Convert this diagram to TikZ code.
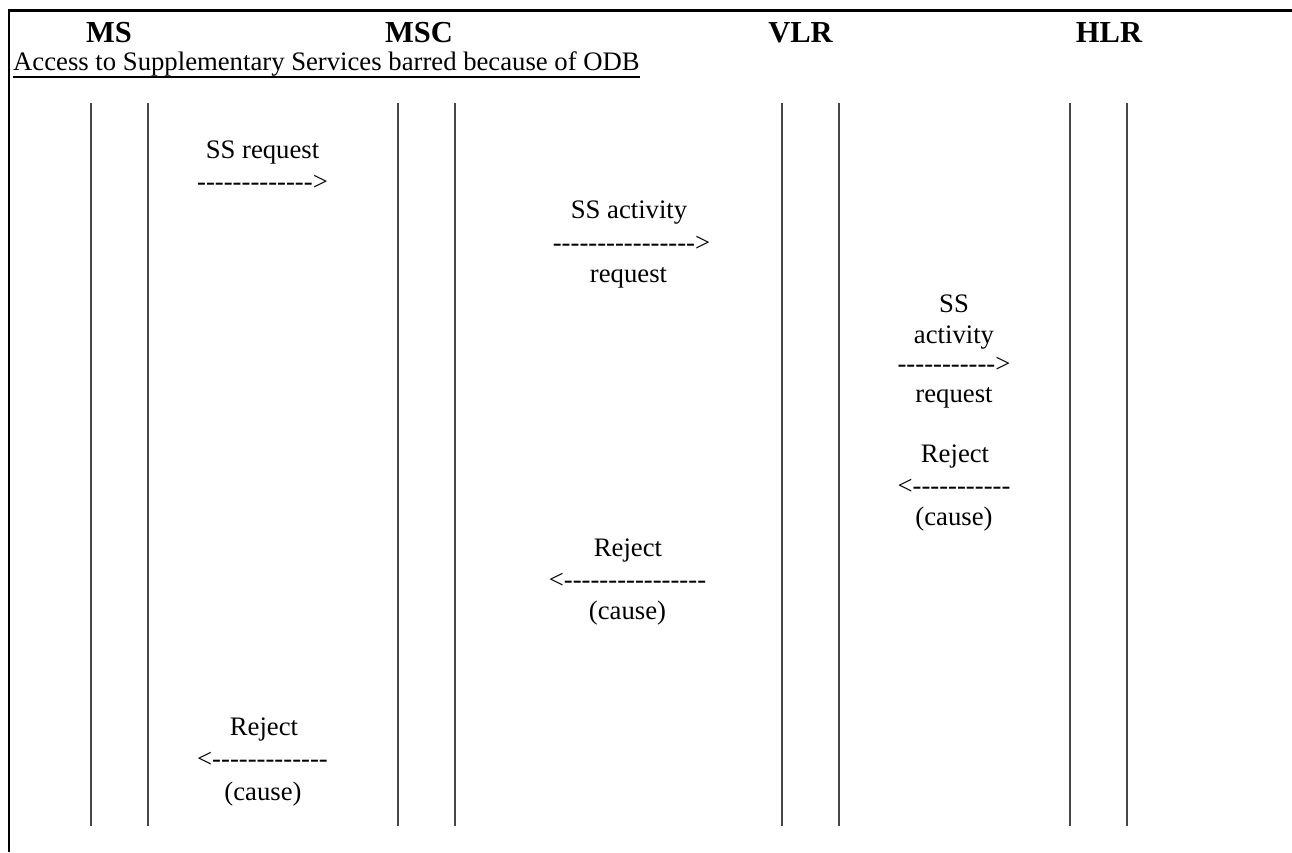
\documentclass[tikz,border=0pt]{standalone}
\usepackage{fontspec}
\setmainfont{Liberation Serif}
\newcommand\dashrun[1]{\foreach \k in {1,...,#1}{-\kern0pt}}
\begin{document}
\begin{tikzpicture}[x=1pt,y=-1pt,
  txt/.style={anchor=base,inner sep=0pt,font=\fontsize{26.7}{32}\selectfont},
  head/.style={anchor=base,inner sep=0pt,font=\fontsize{30.5}{36}\selectfont\bfseries},
  life/.style={draw=black!72,line width=1.1pt},
  frame/.style={draw=black,line width=2.2pt}]
\useasboundingbox (0,0) rectangle (1292,852);
% frame
\coordinate (ftl) at (9,10.5);
\coordinate (ftr) at (1292,10.5);
\coordinate (fbl) at (9,852);
\draw[frame] (ftr) -- (ftl) -- (fbl);
% headings
\node[head] (hms) at (109,42) {MS};
\node[head] (hmsc) at (419,42) {MSC};
\node[head] (hvlr) at (800.5,42) {VLR};
\node[head] (hhlr) at (1109,42) {HLR};
% title
\node[txt,anchor=base west] (title) at (13,70.5) {Access to Supplementary Services barred because of ODB};
\draw[line width=1.3pt] ([yshift=-6.5pt]title.base west) -- ([yshift=-6.5pt]title.base east);
% lifelines
\foreach \n/\x in {a/91,b/148,c/398,d/455,e/782,f/839,g/1070,h/1127}{
  \coordinate (\n top) at (\x,103);
  \coordinate (\n bot) at (\x,826);
  \draw[life] (\n top) -- (\n bot);
}
% MS -> MSC
\node[txt] (m1a) at (262.5,158) {SS request};
\node[txt] (m1b) at (262.5,190) {\dashrun{13}>};
% MSC -> VLR
\node[txt] (m2a) at (629,218) {SS activity};
\node[txt] (m2b) at (631.5,251) {\dashrun{16}>};
\node[txt] (m2c) at (628.5,282) {request};
% VLR -> HLR
\node[txt] (m3a) at (954,312) {SS};
\node[txt] (m3b) at (954,343) {activity};
\node[txt] (m3c) at (954,372) {\dashrun{11}>};
\node[txt] (m3d) at (954,402) {request};
% HLR -> VLR
\node[txt] (m4a) at (955,462) {Reject};
\node[txt] (m4b) at (954,494) {<\dashrun{11}};
\node[txt] (m4c) at (954,525) {(cause)};
% VLR -> MSC
\node[txt] (m5a) at (628,556) {Reject};
\node[txt] (m5b) at (627.5,588) {<\dashrun{16}};
\node[txt] (m5c) at (627.5,619) {(cause)};
% MSC -> MS
\node[txt] (m6a) at (264,735) {Reject};
\node[txt] (m6b) at (262.5,767) {<\dashrun{13}};
\node[txt] (m6c) at (263,800) {(cause)};
\end{tikzpicture}
\end{document}
